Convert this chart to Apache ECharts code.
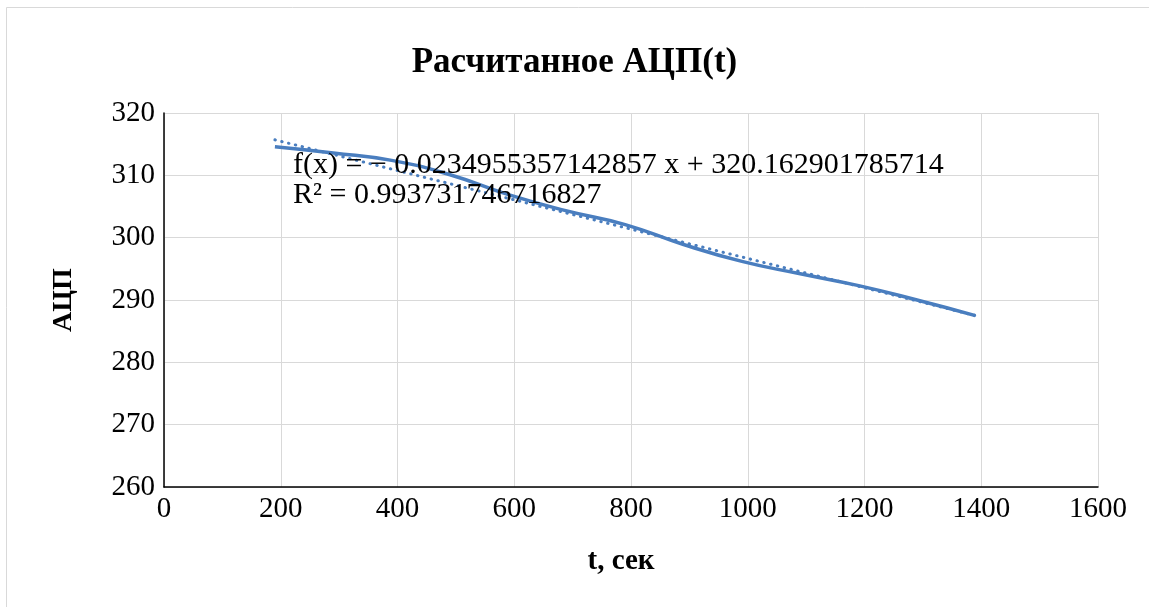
<!DOCTYPE html>
<html>
<head>
<meta charset="utf-8">
<script src="https://cdn.jsdelivr.net/npm/echarts@6/dist/echarts.min.js"></script>
<style>
html,body{margin:0;padding:0;background:#fff;}
#chart{width:1149px;height:607px;}
</style>
</head>
<body>
<div id="chart"></div>
<script>
const titleText = 'Расчитанное АЦП(t)';
const xName = 't, сек';
const yName = 'АЦП';
const tValues = [190, 290, 390, 490, 590, 690, 790, 890, 990, 1090, 1190, 1290, 1390];
const adcValues = [314.6, 313.6, 312.4, 310.1, 306.9, 304.3, 302.1, 298.9, 296.2, 294.2, 292.3, 290.0, 287.5];
const trendT = [190, 1390];
const trendV = [315.7, 287.5];
const eqLine1 = 'f(x) = − 0.0234955357142857 x + 320.162901785714';
const eqLine2 = 'R² = 0.993731746716827';

const FONT = '"Liberation Serif", "Times New Roman", serif';
const COLOR = '#4a7ebf';

const chart = echarts.init(document.getElementById('chart'), null, {renderer: 'canvas'});
chart.setOption({
  animation: false,
  backgroundColor: '#fff',
  title: {
    text: titleText, left: 'center', top: 40,
    textStyle: {fontFamily: FONT, fontWeight: 'bold', fontSize: 35, color: '#000'}
  },
  grid: {left: 164, top: 113, right: 51, bottom: 120, containLabel: false},
  xAxis: {
    type: 'value', min: 0, max: 1600, interval: 200,
    name: xName, nameLocation: 'middle', nameGap: 60,
    nameTextStyle: {fontFamily: FONT, fontWeight: 'bold', fontSize: 29, color: '#000', padding: [0, 20, 0, 0]},
    axisLine: {show: true, onZero: false, lineStyle: {color: '#000', width: 1.5}},
    axisTick: {show: false},
    axisLabel: {fontFamily: FONT, fontSize: 29, color: '#000', margin: 8, formatter: v => String(v)},
    splitLine: {show: true, lineStyle: {color: '#d9d9d9', width: 1}}
  },
  yAxis: {
    type: 'value', min: 260, max: 320, interval: 10,
    name: yName, nameLocation: 'middle', nameGap: 86, nameRotate: 90,
    nameTextStyle: {fontFamily: FONT, fontWeight: 'bold', fontSize: 28, color: '#000'},
    axisLine: {show: true, lineStyle: {color: '#000', width: 1.5}},
    axisTick: {show: false},
    axisLabel: {fontFamily: FONT, fontSize: 29, color: '#000', margin: 9, formatter: v => String(v)},
    splitLine: {show: true, lineStyle: {color: '#d9d9d9', width: 1}}
  },
  series: [
    {
      type: 'line', name: 'АЦП', smooth: true, showSymbol: false,
      data: tValues.map((t, i) => [t, adcValues[i]]),
      lineStyle: {color: COLOR, width: 3.5}, z: 3
    },
    {
      type: 'line', name: 'trend', showSymbol: false,
      data: trendT.map((t, i) => [t, trendV[i]]),
      lineStyle: {color: COLOR, width: 3, type: [0.5, 6.5], cap: 'round'}, z: 2
    }
  ],
  graphic: [
    {type: 'rect', shape: {x: 6.5, y: 7.5, width: 1200, height: 700},
     style: {fill: 'none', stroke: '#d9d9d9', lineWidth: 1}, silent: true, z: -1},
    {type: 'text', left: 293, top: 150,
     style: {text: eqLine1, font: '30px ' + FONT, fill: '#000'}, z: 10},
    {type: 'text', left: 293, top: 180,
     style: {text: eqLine2, font: '30px ' + FONT, fill: '#000'}, z: 10}
  ]
});
</script>
</body>
</html>
